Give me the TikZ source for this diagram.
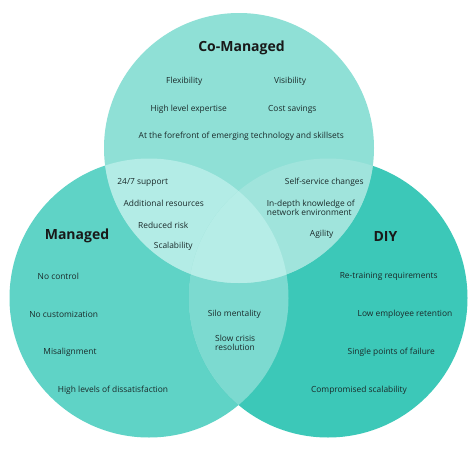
\documentclass[tikz,border=0pt]{standalone}
\usepackage{fontspec}
\setmainfont{Open Sans}
\definecolor{topc}{HTML}{8FE0D6}
\definecolor{leftc}{HTML}{5FD3C6}
\definecolor{rightc}{HTML}{3CC8B8}
\definecolor{tlc}{HTML}{B3ECE6}
\definecolor{trc}{HTML}{A0E4DC}
\definecolor{lrc}{HTML}{7CDAD0}
\definecolor{midc}{HTML}{B6EDE7}
\definecolor{txtc}{HTML}{1A2A2A}
\tikzset{
  item/.style={font=\fontsize{8.4}{9.2}\selectfont, text=txtc, inner sep=0pt},
  title/.style={font=\fontsize{14}{16}\selectfont\bfseries, text=black!90, inner sep=0pt}
}
\begin{document}
\begin{tikzpicture}[x=1pt,y=-1pt]
\useasboundingbox (0,0) rectangle (474,474);
\fill[white] (0,0) rectangle (474,474);
\def\Tc{(239,148) circle (135)}
\def\Lc{(149,298) circle (139.5)}
\def\Rc{(328,298) circle (139.5)}
\fill[leftc] \Lc;
\fill[rightc] \Rc;
\fill[topc] \Tc;
\begin{scope}\clip \Lc; \fill[lrc] \Rc; \end{scope}
\begin{scope}\clip \Tc; \fill[tlc] \Lc; \end{scope}
\begin{scope}\clip \Tc; \fill[trc] \Rc; \end{scope}
\begin{scope}\clip \Tc; \clip \Lc; \fill[midc] \Rc; \end{scope}
% titles
\node[title] (tco) at (241.5,48) {Co-Managed};
\node[title] (tma) at (77,236) {Managed};
\node[title] (tdi) at (385.5,236) {DIY};
% co-managed only
\node[item] (a1) at (184.3,81) {Flexibility};
\node[item] (a2) at (290,81) {Visibility};
\node[item] (a3) at (188.7,109) {High level expertise};
\node[item] (a4) at (292.3,109) {Cost savings};
\node[item] (a5) at (241.3,136.3) {At the forefront of emerging technology and skillsets};
% top-left
\node[item] (b1) at (142.7,182.6) {24/7 support};
\node[item] (b2) at (163.7,203.6) {Additional resources};
\node[item] (b3) at (163.3,225) {Reduced risk};
\node[item] (b4) at (173.3,246.3) {Scalability};
% top-right
\node[item] (c1) at (324.3,182.6) {Self-service changes};
\node[item, anchor=west, align=left] (c2) at (266.7,208) {In-depth knowledge of\\network environment};
\node[item] (c3) at (321.7,234.3) {Agility};
% managed only
\node[item] (d1) at (58.3,276.6) {No control};
\node[item] (d2) at (63.7,314.3) {No customization};
\node[item] (d3) at (70,352.3) {Misalignment};
\node[item] (d4) at (113,390) {High levels of dissatisfaction};
% left-right
\node[item] (e1) at (234.3,314.3) {Silo mentality};
\node[item, anchor=west, align=left] (e2) at (215,342.8) {Slow crisis\\resolution};
% DIY only
\node[item] (f1) at (388.7,276.6) {Re-training requirements};
\node[item] (f2) at (405,314.3) {Low employee retention};
\node[item] (f3) at (391.3,352.3) {Single points of failure};
\node[item] (f4) at (359,390) {Compromised scalability};
\end{tikzpicture}
\end{document}
